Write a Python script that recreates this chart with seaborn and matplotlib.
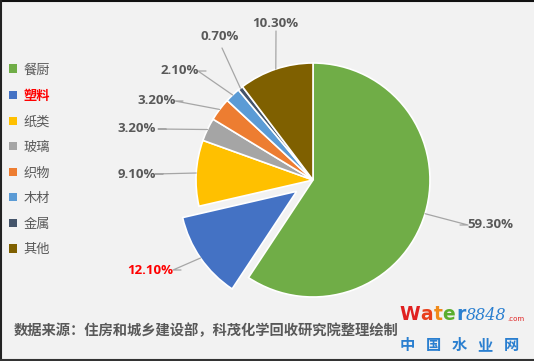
import numpy as np
import matplotlib
matplotlib.use("Agg")
import matplotlib.pyplot as plt
import seaborn as sns
from matplotlib.lines import Line2D

categories = ["餐厨", "塑料", "纸类", "玻璃", "织物", "木材", "金属", "其他"]
values = [59.3, 12.1, 9.1, 3.2, 3.2, 2.1, 0.7, 10.3]
value_labels = ["59.30%", "12.10%", "9.10%", "3.20%", "3.20%", "2.10%", "0.70%", "10.30%"]
colors = ["#70AD47", "#4472C4", "#FFC000", "#A5A5A5", "#ED7D31", "#5B9BD5", "#44546A", "#7F6000"]
explode = [0, 0.17, 0, 0, 0, 0, 0, 0]
source_text = "数据来源：住房和城乡建设部，科茂化学回收研究院整理绘制"
wm_chars = ["中", "国", "水", "业", "网"]

sns.set_style("white")
NUMFAM = ["Open Sans", "DejaVu Sans"]
CJK = ["Noto Sans CJK SC", "DejaVu Sans"]
plt.rcParams["font.family"] = CJK

W, H = 534, 361
BG = "#F2F2F2"
TXT = "#595959"
fig = plt.figure(figsize=(W / 100, H / 100), dpi=100, facecolor=BG)

# pie axes: center at (313,180) px, radius 117 px
cx, cy, R = 313, 180, 117
ax = fig.add_axes([(cx - R) / W, (H - cy - R) / H, 2 * R / W, 2 * R / H])
ax.set_facecolor("none")
wedges, _ = ax.pie(values, colors=colors, startangle=90, counterclock=False,
                   explode=explode, radius=1,
                   wedgeprops=dict(edgecolor="white", linewidth=1.2))
for w in wedges:
    w.set_clip_on(False)
ax.set_xlim(-1, 1)
ax.set_ylim(-1, 1)
ax.axis("off")

def px(x, y):
    return ((x - cx) / R, (cy - y) / R)

# label layout: (text center px, label-side line end px)
layout = {
    "餐厨": ((490, 224), (460, 225)),
    "塑料": ((150, 270), (181, 270)),
    "纸类": ((137, 174), (163, 174)),
    "玻璃": ((137, 129), (166, 129)),
    "织物": ((157, 101), (183, 101)),
    "木材": ((180, 71), (206, 71)),
    "金属": ((220, 36), (222, 48)),
    "其他": ((275, 23), (276, 31)),
}

total = sum(values)
cum = 0
for i, (cat, v) in enumerate(zip(categories, values)):
    mid = cum + v / 2
    cum += v
    ang = np.deg2rad(90 - 360 * mid / total)
    r0 = 1 + explode[i]
    sx, sy = r0 * np.cos(ang), r0 * np.sin(ang)
    (tx, ty), (lx, ly) = layout[cat]
    ex, ey = px(lx, ly)
    if cat in ("金属", "其他"):
        xs, ys = [sx, ex], [sy, ey]
    else:
        d = 8 / R * (1 if ex > 0 else -1)
        xs, ys = [sx, ex + d, ex], [sy, ey, ey]
    ax.add_line(Line2D(xs, ys, color="#A6A6A6", lw=0.9, clip_on=False))
    tcol = "#FF0000" if cat == "塑料" else TXT
    ax.text(*px(tx, ty), value_labels[i], ha="center", va="center",
            fontsize=9.5, fontweight="bold", color=tcol, clip_on=False,
            family=NUMFAM)

# legend
leg = fig.legend(wedges, categories, loc="upper left",
                 bbox_to_anchor=(4 / W, 1 - 58 / H), frameon=False,
                 handlelength=0.6, handleheight=0.6,
                 handletextpad=0.5, labelspacing=0.95, borderaxespad=0,
                 prop=dict(family=CJK, size=9.5))
for h in leg.legend_handles:
    h.set_edgecolor("none")
for t in leg.get_texts():
    t.set_color(TXT)
    if t.get_text() == "塑料":
        t.set_color("#FF0000")
        t.set_fontweight("bold")

# footer
fig.text(14 / W, 1 - 331 / H, source_text, ha="left", va="center",
         fontsize=10.3, fontweight="bold", color=TXT, family=CJK)

# watermark
renderer = fig.canvas.get_renderer()
wm_letters = [("W", "#E02020"), ("a", "#E8401C"), ("t", "#F08A1A"), ("e", "#5AAE2E"), ("r", "#2A7FD0")]
x0 = 399
for ch, c in wm_letters:
    t = fig.text(x0 / W, 1 - 315 / H, ch, ha="left", va="center", fontsize=13.5,
                 fontweight="bold", color=c, family="DejaVu Sans")
    bb = t.get_window_extent(renderer=renderer)
    x0 += bb.width + 0.5
t = fig.text(x0 / W, 1 - 315 / H, "8848", ha="left", va="center", fontsize=11.5,
             style="italic", color="#2A7FD0", family="DejaVu Serif")
bb = t.get_window_extent(renderer=renderer)
fig.text((x0 + bb.width + 1) / W, 1 - 319 / H, ".com", ha="left", va="center",
         fontsize=5, color="#E02020", family="DejaVu Sans")
for k, ch in enumerate(wm_chars):
    fig.text((407 + 26 * k) / W, 1 - 345 / H, ch, ha="center", va="center",
             fontsize=11, fontweight="bold", color="#2A7FD0", family=CJK)

# frame edges
fig.add_artist(Line2D([0, 1], [1 - 1 / H, 1 - 1 / H], color="#111111", lw=1.5, transform=fig.transFigure))
fig.add_artist(Line2D([1 / W, 1 / W], [0, 1], color="#222222", lw=1.5, transform=fig.transFigure))
fig.add_artist(Line2D([0, 1], [1 / H, 1 / H], color="#333333", lw=1.5, transform=fig.transFigure))

fig.savefig("out.png", dpi=100, facecolor=BG)
